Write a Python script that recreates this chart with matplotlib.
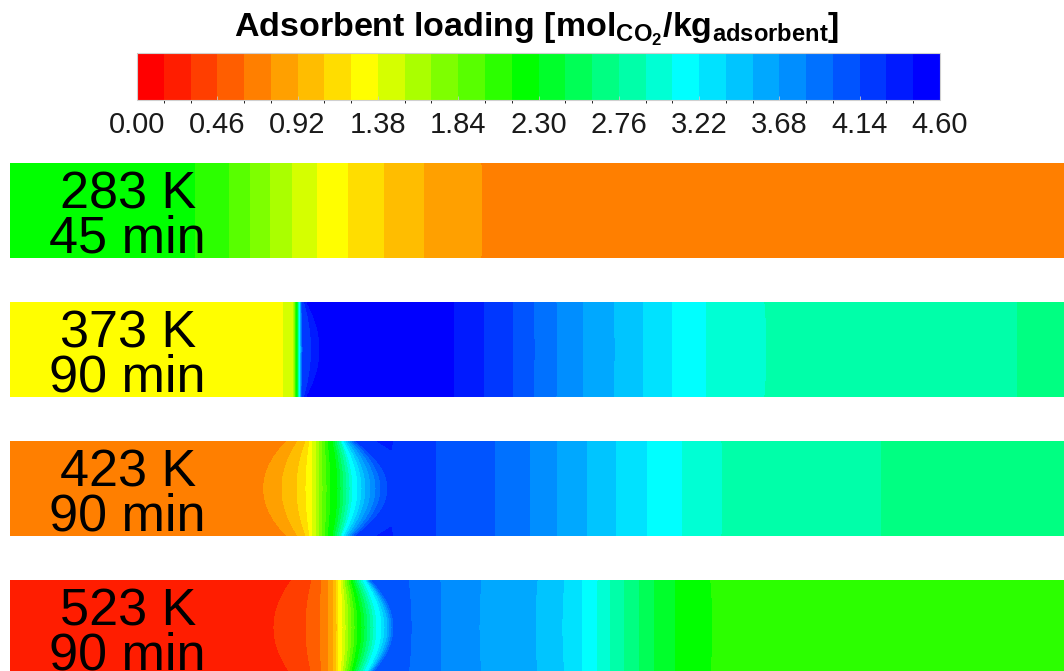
import numpy as np
import matplotlib
matplotlib.use("Agg")
import matplotlib.pyplot as plt
from matplotlib.colors import ListedColormap, BoundaryNorm, LinearSegmentedColormap
from matplotlib.cm import ScalarMappable

plt.rcParams["font.family"] = ["Liberation Sans", "DejaVu Sans"]
plt.rcParams["mathtext.fontset"] = "custom"
plt.rcParams["mathtext.rm"] = "Liberation Sans:bold"
plt.rcParams["mathtext.bf"] = "Liberation Sans:bold"
plt.rcParams["mathtext.it"] = "Liberation Sans:bold"

# ---------------------------------------------------------------------------
# Loading scale: 30 bands between 0 and 4.6 mol/kg
# ---------------------------------------------------------------------------
q_min, q_max, n_bands = 0.0, 4.6, 30
tick_values = [0.00, 0.46, 0.92, 1.38, 1.84, 2.30, 2.76, 3.22, 3.68, 4.14, 4.60]

# Rainbow anchors (band index -> colour)
anchor_bands = [0, 8, 14, 20, 29]
anchor_colors = ["#ff0000", "#ffff00", "#00ff00", "#00ffff", "#0000ff"]

# ---------------------------------------------------------------------------
# Bed profiles: axial position (centre line / wall) and adsorbent loading
# ---------------------------------------------------------------------------
temp_labels = ["283 K", "373 K", "423 K", "523 K"]
time_labels = ["45 min", "90 min", "90 min", "90 min"]

# 283 K, 45 min
z_c_283 = [0, 185, 219, 240, 260, 282, 307, 338, 374, 413.5, 469, 1054]
z_w_283 = [0, 185, 219, 240, 260, 282, 307, 338, 374, 413.5, 468, 1054]
q_c_283 = [2.22, 2.147, 1.993, 1.84, 1.687, 1.533, 1.38, 1.227, 1.073, 0.92, 0.767, 0.70]
q_w_283 = q_c_283

# 373 K, 90 min
z_c_373 = [0, 273, 283, 287, 290, 293, 310, 330, 443, 474, 503, 524, 547, 573,
           604, 633, 662, 695, 756, 1007, 1054]
z_w_373 = [0, 273, 283, 287, 290, 292, 297, 330, 443, 474, 502, 523, 546, 572,
           603, 633, 662, 695, 754, 1006, 1054]
q_c_373 = [1.30, 1.38, 1.533, 2.30, 3.22, 4.14, 4.447, 4.52, 4.447, 4.293, 4.14,
           3.987, 3.833, 3.68, 3.527, 3.373, 3.22, 3.067, 2.913, 2.76, 2.70]
q_w_373 = q_c_373

# 423 K, 90 min
z_c_423 = [0, 255, 272, 287, 296, 302, 306, 310, 313, 317, 321, 328, 331, 334,
           337, 340, 343, 348, 352, 356, 361, 366, 371, 378, 400, 426, 484, 520,
           547, 576, 606, 637, 671, 712, 871, 1054]
z_w_423 = [0, 278, 288, 296, 300, 303, 306, 309, 312, 315, 318, 323, 325, 327,
           329, 331, 332, 334, 336, 338, 340, 342, 344, 346, 372, 426, 484, 520,
           547, 576, 606, 637, 671, 711, 870, 1054]
q_c_423 = [0.70, 0.767, 0.92, 1.073, 1.227, 1.38, 1.533, 1.687, 1.84, 1.993, 2.147,
           2.30, 2.453, 2.607, 2.76, 2.913, 3.067, 3.22, 3.373, 3.527, 3.68, 3.833,
           3.987, 4.14, 4.22, 4.14, 3.987, 3.833, 3.68, 3.527, 3.373, 3.22, 3.067,
           2.913, 2.76, 2.70]
q_w_423 = [0.70, 0.767, 0.92, 1.073, 1.227, 1.38, 1.533, 1.687, 1.84, 1.993, 2.147,
           2.30, 2.453, 2.607, 2.76, 2.913, 3.067, 3.22, 3.373, 3.527, 3.68, 3.833,
           3.987, 4.14, 4.33, 4.14, 3.987, 3.833, 3.68, 3.527, 3.373, 3.22, 3.067,
           2.913, 2.76, 2.70]

# 523 K, 90 min
z_c_523 = [0, 265, 296, 310, 319, 323, 327, 329, 333, 336, 339, 342, 345, 348,
           352, 355, 358, 361, 364, 367, 372, 375, 378, 380, 382, 384, 392, 401,
           431, 469, 525, 552, 572, 586, 600, 614, 628, 644, 665, 700, 1054]
z_w_523 = [0, 283, 302, 312, 319, 323, 326, 328, 331, 333, 335, 337, 339, 341,
           343, 345, 347, 349, 351, 353, 356, 357, 358, 359, 360, 362, 380, 398,
           430, 471, 527, 554, 572, 587, 600, 614, 628, 644, 665, 698, 1054]
q_c_523 = [0.22, 0.307, 0.46, 0.613, 0.767, 0.92, 1.073, 1.227, 1.38, 1.533, 1.687,
           1.84, 1.993, 2.147, 2.30, 2.453, 2.607, 2.76, 2.913, 3.067, 3.22, 3.373,
           3.527, 3.68, 3.833, 3.987, 4.06, 3.987, 3.833, 3.68, 3.527, 3.373, 3.22,
           3.067, 2.913, 2.76, 2.607, 2.453, 2.30, 2.147, 2.08]
q_w_523 = [0.22, 0.307, 0.46, 0.613, 0.767, 0.92, 1.073, 1.227, 1.38, 1.533, 1.687,
           1.84, 1.993, 2.147, 2.30, 2.453, 2.607, 2.76, 2.913, 3.067, 3.22, 3.373,
           3.527, 3.68, 3.833, 3.987, 4.08, 3.987, 3.833, 3.68, 3.527, 3.373, 3.22,
           3.067, 2.913, 2.76, 2.607, 2.453, 2.30, 2.147, 2.08]

profiles = [
    (z_c_283, z_w_283, q_c_283, q_w_283),
    (z_c_373, z_w_373, q_c_373, q_w_373),
    (z_c_423, z_w_423, q_c_423, q_w_423),
    (z_c_523, z_w_523, q_c_523, q_w_523),
]

# ---------------------------------------------------------------------------
W, H, DPI = 1064, 671, 100
fig = plt.figure(figsize=(W / DPI, H / DPI), dpi=DPI)

levels = np.linspace(q_min, q_max, n_bands + 1)
ramp = LinearSegmentedColormap.from_list(
    "ramp", list(zip(np.array(anchor_bands) / (n_bands - 1), anchor_colors)))
band_colors = [ramp(i / (n_bands - 1)) for i in range(n_bands)]
cmap = ListedColormap(band_colors)
norm = BoundaryNorm(levels, n_bands)

def px_axes(x0, y0, w, h):
    return fig.add_axes([x0 / W, 1 - (y0 + h) / H, w / W, h / H])

# Radial coordinate across the bed (-1 wall, 0 centre, +1 wall)
r = np.linspace(-1.0, 1.0, 61)
weight = (1.0 - r ** 2)[:, None]

strip_top0, strip_pitch, strip_h = 163.3, 139.0, 94.4
for i, (zc, zw, qc, qw) in enumerate(profiles):
    ax = px_axes(10, strip_top0 + i * strip_pitch, 1054, strip_h)
    zc, zw, qc, qw = map(np.asarray, (zc, zw, qc, qw))
    X = zw[None, :] + (zc - zw)[None, :] * weight
    Z = qw[None, :] + (qc - qw)[None, :] * weight
    Y = np.repeat(r[:, None], len(zc), axis=1)
    ax.contourf(X, Y, Z, levels=levels, cmap=cmap, norm=norm, antialiased=False)
    ax.set_xlim(0, 1054)
    ax.set_ylim(-1, 1)
    ax.axis("off")
    ax.text(118, 1 - 2 * 0.474, temp_labels[i], ha="center", va="baseline",
            fontsize=37.5, color="black")
    ax.text(117, 1 - 2 * 0.946, time_labels[i], ha="center", va="baseline",
            fontsize=37.5, color="black")

# Colour bar
cax = px_axes(137, 53.3, 803, 46.7)
cb = fig.colorbar(ScalarMappable(norm=norm, cmap=cmap), cax=cax,
                  orientation="horizontal", ticks=tick_values)
cb.set_ticklabels([f"{v:.2f}" for v in tick_values])
cb.outline.set_edgecolor("#d0d0d0")
cb.outline.set_linewidth(0.8)
cax.tick_params(axis="x", direction="in", length=3, width=0.6, color="#c8c8c8",
                labelsize=21, labelcolor="#1a1a1a", pad=8)

fig.text(537 / W, 1 - 37 / H,
         r"Adsorbent loading [mol$_{\mathbf{CO_2}}$/kg$_{\mathbf{adsorbent}}$]",
         ha="center", va="baseline", fontsize=24.5, fontweight="bold")

fig.savefig("out.png", dpi=DPI)
